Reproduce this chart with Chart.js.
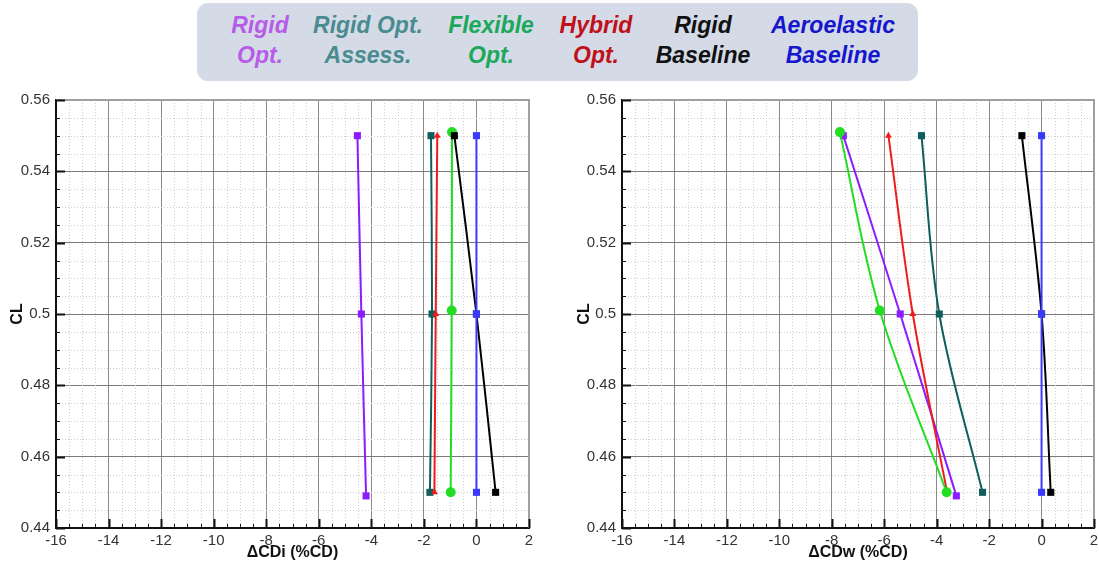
<!DOCTYPE html>
<html>
<head>
<meta charset="utf-8">
<script src="https://cdn.jsdelivr.net/npm/chart.js@4.4.0/dist/chart.umd.min.js"></script>
<style>
  body { margin: 0; background: #fff; width: 1099px; height: 564px; overflow: hidden; position: relative; font-family: "Liberation Sans", Arial, sans-serif; }
  #legendBox { position: absolute; left: 197px; top: 3px; width: 721px; height: 78px; border-radius: 11px; background: #d4dbe7; }
  .item { position: absolute; top: 10px; width: 160px; margin-left: -80px; text-align: center; font: italic bold 23px/30px "Liberation Sans", Arial, sans-serif; white-space: nowrap; }
  canvas { position: absolute; }
</style>
</head>
<body>
<div id="legendBox"></div>
<div id="legend"></div>
<canvas id="chartCDi" width="549" height="474" style="left:0px; top:90px;"></canvas>
<canvas id="chartCDw" width="529" height="474" style="left:570px; top:90px;"></canvas>

<script>
// Series names and lift coefficient levels
const seriesNames = ['Rigid Opt.', 'Rigid Opt. Assess.', 'Flexible Opt.', 'Hybrid Opt.', 'Rigid Baseline', 'Aeroelastic Baseline'];
const clRigidOpt = [0.55, 0.50, 0.449];
const clAssess = [0.55, 0.50, 0.45];
const clFlex = [0.551, 0.501, 0.45];
const clHybrid = [0.55, 0.50, 0.45];
const clRigidBase = [0.55, 0.50, 0.45];
const clAeroBase = [0.55, 0.50, 0.45];

// Induced drag change (%CD)
const cdiRigidOpt = [-4.53, -4.38, -4.2];
const cdiAssess = [-1.73, -1.69, -1.77];
const cdiFlex = [-0.93, -0.94, -0.98];
const cdiHybrid = [-1.49, -1.55, -1.6];
const cdiRigidBase = [-0.84, 0, 0.73];
const cdiAeroBase = [0, 0, 0];

// Wave drag change (%CD)
const cdwRigidOpt = [-7.56, -5.39, -3.25];
const cdwAssess = [-4.58, -3.9, -2.25];
const cdwFlex = [-7.69, -6.17, -3.62];
const cdwHybrid = [-5.84, -4.91, -3.6];
const cdwRigidBase = [-0.75, 0, 0.35];
const cdwAeroBase = [0, 0, 0];

// Axis ranges and tick labels
const xMin = -16, xMax = 2, xStep = 2, xMinor = 0.5;
const yMin = 0.44, yMax = 0.56, yStep = 0.02, yMinor = 0.005;

// Legend (two lines per entry)
const legendLines = [['Rigid', 'Opt.'], ['Rigid Opt.', 'Assess.'], ['Flexible', 'Opt.'], ['Hybrid', 'Opt.'], ['Rigid', 'Baseline'], ['Aeroelastic', 'Baseline']];
const legendColors = ['#b65ce8', '#4a8b8f', '#1ba85a', '#c0111b', '#111111', '#1616cc'];
const legendCenters = [260, 368, 491, 596, 703, 833];

const legendDiv = document.getElementById('legend');
legendLines.forEach(function(lines, i) {
    const d = document.createElement('div');
    d.className = 'item';
    d.style.left = legendCenters[i] + 'px';
    d.style.color = legendColors[i];
    d.innerHTML = lines[0] + '<br>' + lines[1];
    legendDiv.appendChild(d);
});

// Line styles for each series
const lineColors = ['#8c1cff', '#0f5e5e', '#22dd22', '#ee1c1c', '#000000', '#3a3aff'];
const markers = ['rect', 'rect', 'circle', 'triangle', 'rect', 'rect'];
const markerSize = [5, 5, 5, 4, 5, 5];

function pairs(xs, ys) {
    return xs.map(function(v, i) { return { x: v, y: ys[i] }; });
}

function buildDatasets(xsList) {
    const ysList = [clRigidOpt, clAssess, clFlex, clHybrid, clRigidBase, clAeroBase];
    // drawing order: blue on top, then black, etc.
    const drawOrder = [5, 4, 2, 3, 1, 0];
    return xsList.map(function(xs, i) {
        return {
            label: seriesNames[i],
            data: pairs(xs, ysList[i]),
            showLine: true,
            borderColor: lineColors[i],
            backgroundColor: lineColors[i],
            borderWidth: 2,
            tension: 0.35,
            pointStyle: markers[i],
            pointRadius: markerSize[i],
            pointBorderWidth: 0,
            order: drawOrder[i]
        };
    });
}

// Minor dotted grid, gray top/right frame and inward tick marks
const framePlugin = {
    id: 'framePlugin',
    beforeDatasetsDraw(chart) {
        const ctx = chart.ctx, a = chart.chartArea, x = chart.scales.x, y = chart.scales.y;
        ctx.save();
        ctx.strokeStyle = '#cfcfcf';
        ctx.lineWidth = 1;
        ctx.setLineDash([1, 2]);
        const nx = Math.round((xMax - xMin) / xMinor);
        for (let i = 1; i < nx; i++) {
            if (i % 4 === 0) continue;
            const px = Math.round(x.getPixelForValue(xMin + i * xMinor)) + 0.5;
            ctx.beginPath(); ctx.moveTo(px, a.top); ctx.lineTo(px, a.bottom); ctx.stroke();
        }
        const ny = Math.round((yMax - yMin) / yMinor);
        for (let i = 1; i < ny; i++) {
            if (i % 4 === 0) continue;
            const py = Math.round(y.getPixelForValue(yMin + i * yMinor)) + 0.5;
            ctx.beginPath(); ctx.moveTo(a.left, py); ctx.lineTo(a.right, py); ctx.stroke();
        }
        ctx.restore();
    },
    afterDraw(chart) {
        const ctx = chart.ctx, a = chart.chartArea, x = chart.scales.x, y = chart.scales.y;
        ctx.save();
        ctx.strokeStyle = '#a0a0a0';
        ctx.lineWidth = 2;
        ctx.beginPath();
        ctx.moveTo(a.left, a.top); ctx.lineTo(a.right, a.top); ctx.lineTo(a.right, a.bottom);
        ctx.stroke();
        ctx.strokeStyle = '#111';
        const nx = Math.round((xMax - xMin) / xMinor);
        for (let i = 0; i <= nx; i++) {
            const major = i % 4 === 0;
            const px = Math.round(x.getPixelForValue(xMin + i * xMinor)) + 0.5;
            ctx.lineWidth = major ? 2 : 1;
            ctx.beginPath(); ctx.moveTo(px, a.bottom); ctx.lineTo(px, a.bottom - (major ? 9 : 4)); ctx.stroke();
        }
        const ny = Math.round((yMax - yMin) / yMinor);
        for (let i = 0; i <= ny; i++) {
            const major = i % 4 === 0;
            const py = Math.round(y.getPixelForValue(yMin + i * yMinor)) + 0.5;
            ctx.lineWidth = major ? 2 : 1;
            ctx.beginPath(); ctx.moveTo(a.left, py); ctx.lineTo(a.left + (major ? 9 : 4), py); ctx.stroke();
        }
        ctx.restore();
    }
};

function makeChart(canvasId, xsList, xTitle, yAxisWidth, titlePad, padRight) {
    const tickFont = { family: '"Liberation Sans", Arial, sans-serif', size: 15 };
    const titleFont = { family: '"Liberation Sans", Arial, sans-serif', size: 16, weight: 'bold' };
    return new Chart(document.getElementById(canvasId), {
        type: 'scatter',
        data: { datasets: buildDatasets(xsList) },
        options: {
            responsive: false,
            animation: false,
            layout: { padding: { left: 0, top: 10, right: padRight, bottom: 0 } },
            plugins: { legend: { display: false }, tooltip: { enabled: false } },
            scales: {
                x: {
                    type: 'linear',
                    min: xMin,
                    max: xMax,
                    afterFit: function(s) { s.height = 36; s.paddingLeft = 0; s.paddingRight = 0; },
                    ticks: { stepSize: xStep, padding: 4, color: '#333', font: tickFont, maxRotation: 0, autoSkip: false },
                    grid: { color: '#8a8a8a', lineWidth: 1, drawTicks: false },
                    border: { color: '#111', width: 2 },
                    title: { display: true, text: xTitle, color: '#111', font: titleFont, padding: { top: 0, bottom: 2 } }
                },
                y: {
                    type: 'linear',
                    min: yMin,
                    max: yMax,
                    afterFit: function(s) { s.width = yAxisWidth; s.paddingTop = 0; s.paddingBottom = 0; },
                    ticks: {
                        stepSize: yStep, padding: 6, color: '#333', font: tickFont,
                        callback: function(v) { return String(+v.toFixed(2)); }
                    },
                    grid: { color: '#7a7a7a', lineWidth: 1, drawTicks: false },
                    border: { color: '#111', width: 2 },
                    title: { display: true, text: 'CL', color: '#111', font: titleFont, padding: { top: titlePad, bottom: 0 } }
                }
            }
        },
        plugins: [framePlugin]
    });
}

makeChart('chartCDi', [cdiRigidOpt, cdiAssess, cdiFlex, cdiHybrid, cdiRigidBase, cdiAeroBase], '\u0394CDi (%CD)', 56, 8, 20);
makeChart('chartCDw', [cdwRigidOpt, cdwAssess, cdwFlex, cdwHybrid, cdwRigidBase, cdwAeroBase], '\u0394CDw (%CD)', 52, 5, 5);
</script>
</body>
</html>
